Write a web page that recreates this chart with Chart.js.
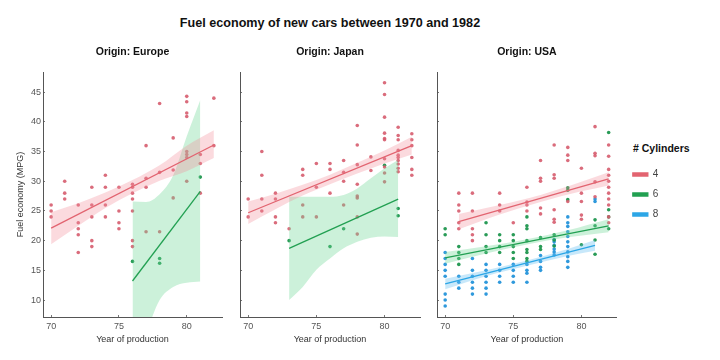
<!DOCTYPE html>
<html>
<head>
<meta charset="utf-8">
<script src="https://cdn.jsdelivr.net/npm/chart.js@4.4.1/dist/chart.umd.min.js"></script>
<style>
  html, body { margin: 0; padding: 0; background: #fff; }
  body { width: 720px; height: 360px; position: relative; overflow: hidden; font-family: 'Liberation Sans', Arial, sans-serif; }
  #title { position: absolute; left: 0; top: 16px; width: 660px; text-align: center; font-size: 12.6px; font-weight: bold; color: #111; line-height: 14px; }
  #legendTitle { position: absolute; left: 633px; top: 142px; font-size: 10.5px; font-weight: bold; color: #111; line-height: 13px; white-space: nowrap; }
  canvas { position: absolute; top: 0; }
</style>
</head>
<body>
<div id="title">Fuel economy of new cars between 1970 and 1982</div>
<div id="legendTitle"># Cylinders</div>
<canvas id="europe" width="226" height="360" style="left:0px"></canvas>
<canvas id="japan" width="194" height="360" style="left:230px"></canvas>
<canvas id="usa" width="293" height="360" style="left:427px"></canvas>
<script>
// ---- data: [model year, mpg] ----
const europe4 = [
  [70,26],[70,25],[70,24],
  [71,30],[71,28],[71,27],
  [72,26],[72,23],[72,22],[72,21],[72,18],
  [73,29],[73,26],[73,24],[73,20],[73,19],
  [74,31],[74,29],[74,26],[74,24],
  [75,29],[75,25],[75,23],[75,22],
  [76,29.5],[76,29],[76,28],[76,27],[76,25],[76,20],[76,19],
  [77,36],[77,30.5],[77,29],[77,21.5],
  [78,43.1],[78,31.5],[78,21.5],
  [79,37.3],[79,31.9],[79,27.2],
  [80,44.3],[80,43.4],[80,41.5],[80,40.9],[80,35],[80,34.5],[80,34],[80,30],
  [81,34.5],[81,33],[81,28],
  [82,44],[82,36]
];
const europe6 = [[76,16.5],[78,17],[78,16.2],[81,30.7]];

const japan4 = [
  [70,27],[70,24],
  [71,35],[71,31],[71,27],[71,25],
  [72,28],[72,27],[72,24],[72,23],
  [73,22],
  [74,32],[74,31],[74,26],[74,24],
  [75,33],[75,29],[75,24],
  [76,33],[76,32],[76,28],
  [77,33.5],[77,31.5],[77,30],[77,26],
  [78,39.4],[78,36.1],[78,32.8],[78,29.5],[78,27.5],[78,27.2],[78,24],[78,21.1],
  [79,34.1],[79,31.8],
  [80,46.6],[80,44.6],[80,40.8],[80,38.1],[80,37.2],[80,37],[80,33.8],[80,32.4],[80,31.4],[80,29.9],
  [81,39.1],[81,37.7],[81,37],[81,35.2],[81,34.4],[81,34],[81,33.5],[81,32.9],[81,32.2],[81,31.6],
  [82,38],[82,37],[82,36],[82,34],[82,32],[82,31]
];
const japan6 = [[73,20],[76,19],[77,22],[80,32.7],[81,25.4],[81,24.2]];

const usa4 = [
  [71,28],[71,26],[71,25],[71,23],[71,22],
  [72,28],[72,25],[72,22],[72,21],[72,20],
  [74,28],[74,26],[74,25],
  [75,23],
  [76,29],[76,26.5],[76,26],[76,25],
  [77,33.5],[77,30.5],[77,30],[77,25.5],[77,24.5],
  [78,36.1],[78,31.1],[78,30.5],[78,25.2],[78,23.6],[78,23.1],
  [79,35.7],[79,34.4],[79,33.5],[79,26.6],
  [80,32.2],[80,28],[80,26.6],[80,24.3],[80,23.6],
  [81,39.2],[81,34.7],[81,34.3],[81,29.9],[81,27.4],
  [82,36.1],[82,34.2],[82,32],[82,31],[82,30],[82,29],[82,28],[82,27],[82,26],[82,24],[82,23]
];
const usa6 = [
  [70,22],[70,21],
  [71,19],[71,18],[71,17],[71,16],
  [73,23],[73,21],[73,19],[73,18],
  [74,21],[74,20],[74,19],[74,18],
  [75,21],[75,20],[75,19],[75,18],[75,17],
  [76,24],[76,22.5],[76,22],[76,20],[76,18.5],[76,18],[76,17],[76,16.5],
  [77,20.5],[77,19],[77,18.5],
  [78,21],[78,20.1],[78,19.1],
  [79,28.9],[79,28.5],[79,26.9],
  [80,19.3],
  [81,23.5],[81,22.5],[81,20.1],[81,17.7],
  [82,38.2],[82,25.2],[82,24],[82,22]
];
const usa8 = [
  [70,18],[70,17],[70,16],[70,15],[70,14],[70,11],[70,10],[70,9],
  [71,14],[71,13],[71,12],
  [72,17],[72,15],[72,14],[72,13],[72,12],[72,11],
  [73,16],[73,15],[73,14],[73,13],[73,12],[73,11],
  [74,16],[74,15],[74,14],[74,13],
  [75,16],[75,15],[75,14],[75,13],
  [76,16],[76,15],[76,14.5],[76,13],
  [77,17.5],[77,16.5],[77,15.5],[77,15],
  [78,20.2],[78,19.8],[78,19.2],[78,18.6],[78,18.1],[78,17.6],
  [79,24],[79,23],[79,22.4],[79,21.5],[79,20.7],[79,19.8],[79,19],[79,18.1],[79,17.3],[79,16.5],[79,15.5],
  [81,27],[81,26.6]
];

// regression lines (end points) and confidence bands
const europe4Fit = [[70,22.1],[82,36.1]];
const europe4BandYears = [70,72,74,76,78,80,82];
const europe4BandLow   = [19.4,22.5,25.5,28.0,30.1,31.7,33.9];
const europe4BandHigh  = [24.8,26.3,28.1,30.2,32.7,36.0,38.6];

const europe6Fit = [[76,13.2],[81,28.3]];
const europe6BandYears = [76,77,78,79,80,81];
const europe6BandLow   = [-0.5,4.5,10.0,12.2,12.9,13.1];
const europe6BandHigh  = [26.6,26.5,27.8,31.0,37.6,43.7];

const japan4Fit = [[70,24.7],[82,36.0]];
const japan4BandYears = [70,72,74,76,78,80,82];
const japan4BandLow   = [22.8,25.3,27.6,29.5,31.3,33.0,34.5];
const japan4BandHigh  = [26.6,27.9,29.4,31.1,33.1,35.2,37.5];

const japan6Fit = [[73,18.7],[81,27.0]];
const japan6BandYears = [73,74,75,76,77,78,79,80,81];
const japan6BandLow   = [10.0,12.2,15.1,17.0,18.7,19.8,20.5,20.7,20.6];
const japan6BandHigh  = [27.4,27.4,27.4,27.4,27.7,28.8,30.5,32.2,33.6];

const usa4Fit = [[71,23.2],[82,30.4]];
const usa4BandYears = [71,74,77,80,82];
const usa4BandLow   = [21.9,24.4,26.5,28.3,29.3];
const usa4BandHigh  = [24.5,26.0,27.7,29.9,31.5];

const usa6Fit = [[70,17.1],[82,22.5]];
const usa6BandYears = [70,73,76,79,82];
const usa6BandLow   = [16.1,17.85,19.35,20.55,21.4];
const usa6BandHigh  = [18.1,19.05,20.25,21.75,23.6];

const usa8Fit = [[70,12.7],[81,19.2]];
const usa8BandYears = [70,73,76,79,81];
const usa8BandLow   = [11.8,14.0,15.75,17.4,18.3];
const usa8BandHigh  = [13.6,15.0,16.65,18.6,20.1];

const xTicks = [70, 75, 80];
const yTicks = [10, 15, 20, 25, 30, 35, 40, 45];
const cylinderLabels = ['4', '6', '8'];

// colours
const colors = {
  '4': { point: 'rgba(214,92,110,0.9)', line: 'rgb(226,100,112)', band: 'rgba(242,140,152,0.32)' },
  '6': { point: 'rgba(30,150,78,0.95)', line: 'rgb(34,160,82)', band: 'rgba(110,214,150,0.35)' },
  '8': { point: 'rgba(36,148,218,0.95)', line: 'rgb(44,166,230)', band: 'rgba(96,190,240,0.35)' }
};

Chart.defaults.font.family = "'Liberation Sans', Arial, sans-serif";

function points(data, cyl) {
  return {
    type: 'scatter',
    data: data.map(([x, y]) => ({ x, y })),
    backgroundColor: colors[cyl].point,
    pointRadius: 1.8,
    pointBorderWidth: 0,
    order: 3
  };
}

function band(years, low, high, cyl) {
  const edge = {
    type: 'line',
    borderColor: 'rgba(0,0,0,0)',
    borderWidth: 0,
    pointRadius: 0,
    cubicInterpolationMode: 'monotone',
    order: 2
  };
  return [
    { ...edge, data: years.map((x, i) => ({ x, y: low[i] })), fill: false },
    { ...edge, data: years.map((x, i) => ({ x, y: high[i] })), fill: '-1', backgroundColor: colors[cyl].band }
  ];
}

function fitLine(data, cyl, inLegend) {
  return {
    type: 'line',
    label: cyl,
    inLegend: !!inLegend,
    data: data.map(([x, y]) => ({ x, y })),
    borderColor: colors[cyl].line,
    backgroundColor: colors[cyl].line,
    borderWidth: 1.3,
    pointRadius: 0,
    fill: false,
    order: 1
  };
}

// short inward tick marks, no grid lines
const axisGrid = { display: true, drawOnChartArea: false, drawTicks: true, tickLength: -2, color: '#777', lineWidth: 1 };

function makePanel(id, title, datasets, opts) {
  const first = opts.first;
  const scales = {
    x: {
      type: 'linear',
      min: 69.4,
      max: 82.6,
      grid: axisGrid,
      border: { display: true, color: '#555', width: 1 },
      afterBuildTicks: s => { s.ticks = xTicks.map(v => ({ value: v })); },
      afterFit: s => { s.height = 43; },
      ticks: { font: { size: 9 }, color: '#555', padding: 6 },
      title: { display: true, text: 'Year of production', font: { size: 9 }, color: '#333', padding: { top: 0, bottom: 14.6 } }
    },
    top: {
      type: 'linear',
      position: 'top',
      min: 69.4,
      max: 82.6,
      grid: { display: false, drawTicks: false },
      border: { display: false },
      ticks: { display: false },
      afterFit: s => { s.height = 72; },
      title: { display: true, text: title, font: { size: 10.5, weight: 'bold' }, color: '#111', padding: { top: 45.7, bottom: 0 } }
    },
    y: {
      type: 'linear',
      min: 7.14,
      max: 48.4,
      grid: axisGrid,
      border: { display: true, color: '#555', width: 1 },
      afterBuildTicks: s => { s.ticks = yTicks.map(v => ({ value: v })); },
      afterFit: s => { s.width = first ? 43 : 10; },
      ticks: { display: first, font: { size: 9 }, color: '#555', padding: 4 },
      title: { display: first, text: 'Fuel economy (MPG)', font: { size: 9 }, color: '#333', padding: { top: 15.6, bottom: 0 } }
    }
  };
  if (opts.legend) {
    scales.gap = {
      type: 'linear', position: 'right', min: 0, max: 1,
      grid: { display: false, drawTicks: false }, border: { display: false }, ticks: { display: false },
      afterFit: s => { s.width = 6; }
    };
  }
  return new Chart(document.getElementById(id), {
    type: 'scatter',
    data: { datasets },
    options: {
      responsive: false,
      animation: false,
      layout: { padding: { left: 0, right: opts.padRight, top: 0, bottom: 0 } },
      plugins: {
        tooltip: { enabled: false },
        legend: opts.legend ? {
          display: true,
          position: 'right',
          align: 'center',
          fullSize: false,
          labels: {
            boxWidth: 15, boxHeight: 3, padding: 10, color: '#444', font: { size: 10 },
            filter: (item, data) => data.datasets[item.datasetIndex].inLegend
          }
        } : { display: false }
      },
      scales
    }
  });
}

makePanel('europe', 'Origin: Europe', [
  points(europe4, '4'), points(europe6, '6'),
  ...band(europe4BandYears, europe4BandLow, europe4BandHigh, '4'),
  ...band(europe6BandYears, europe6BandLow, europe6BandHigh, '6'),
  fitLine(europe4Fit, '4'), fitLine(europe6Fit, '6')
], { first: true, padRight: 0 });

makePanel('japan', 'Origin: Japan', [
  points(japan4, '4'), points(japan6, '6'),
  ...band(japan4BandYears, japan4BandLow, japan4BandHigh, '4'),
  ...band(japan6BandYears, japan6BandLow, japan6BandHigh, '6'),
  fitLine(japan4Fit, '4'), fitLine(japan6Fit, '6')
], { first: false, padRight: 0 });

makePanel('usa', 'Origin: USA', [
  points(usa4, '4'), points(usa6, '6'), points(usa8, '8'),
  ...band(usa4BandYears, usa4BandLow, usa4BandHigh, '4'),
  ...band(usa6BandYears, usa6BandLow, usa6BandHigh, '6'),
  ...band(usa8BandYears, usa8BandLow, usa8BandHigh, '8'),
  fitLine(usa4Fit, cylinderLabels[0], true), fitLine(usa6Fit, cylinderLabels[1], true), fitLine(usa8Fit, cylinderLabels[2], true)
], { first: false, legend: true, padRight: 58 });
</script>
</body>
</html>
